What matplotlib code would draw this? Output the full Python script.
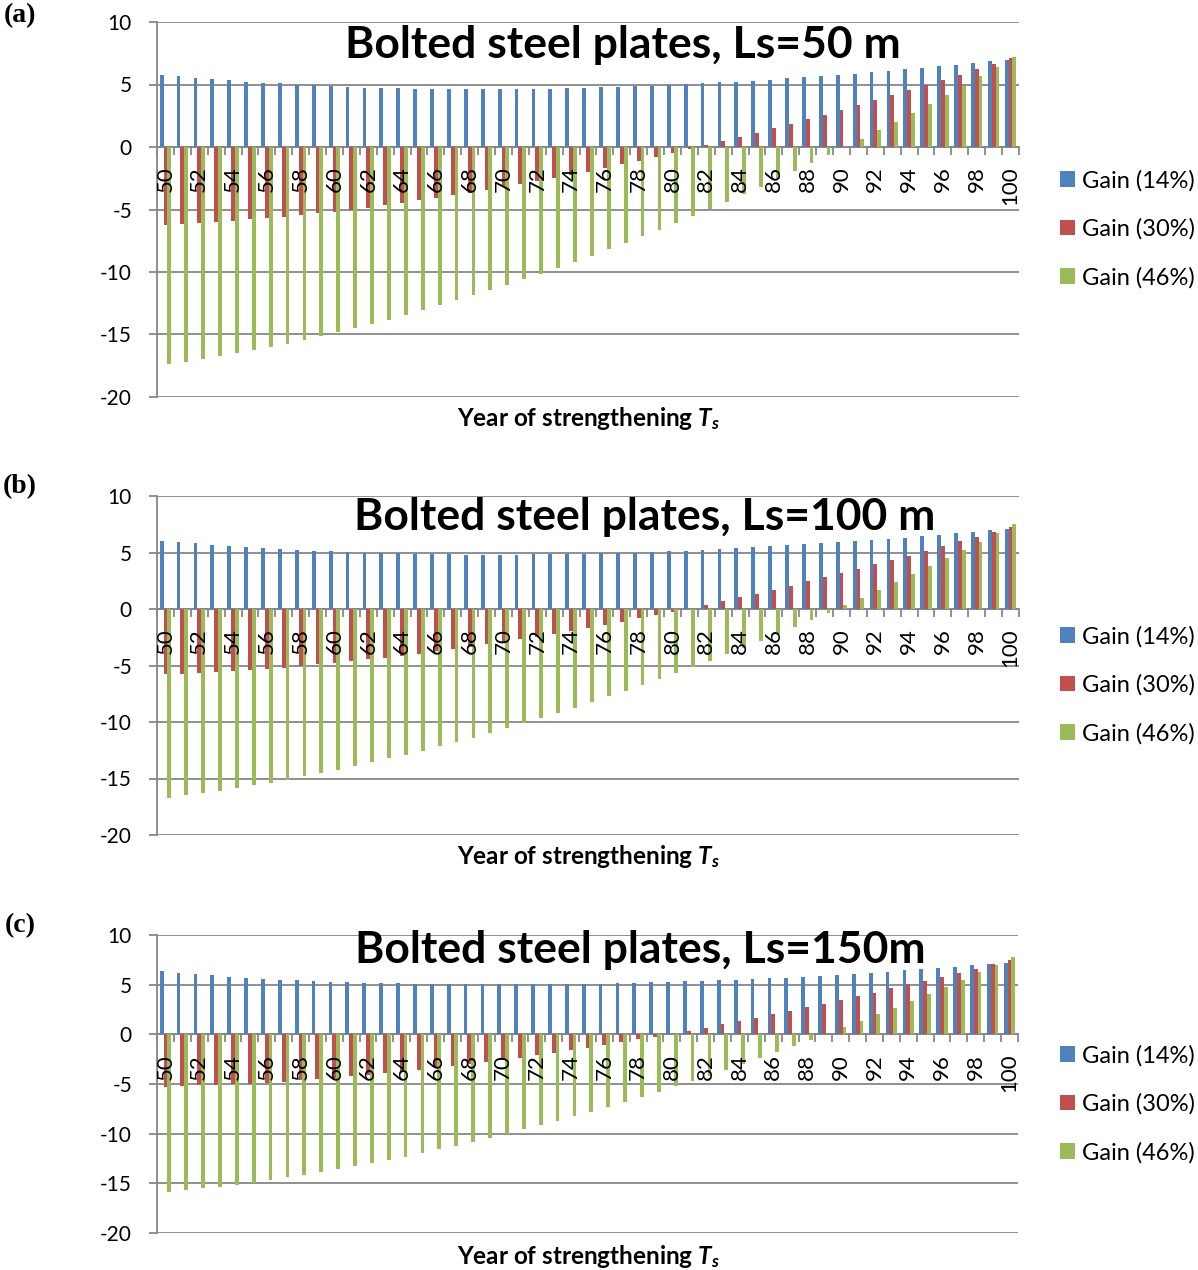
import matplotlib
matplotlib.use('Agg')
import matplotlib.pyplot as plt
from matplotlib.ticker import FixedLocator, NullFormatter

plt.rcParams['font.family'] = ['Lato', 'DejaVu Sans']
plt.rcParams['mathtext.fontset'] = 'custom'
plt.rcParams['mathtext.it'] = 'Lato:italic:bold'
plt.rcParams['mathtext.rm'] = 'Lato:bold'

years = list(range(50, 101))
year_labels = [str(y) for y in range(50, 101, 2)]
series_names = ['Gain (14%)', 'Gain (30%)', 'Gain (46%)']
colors = ['#4F81BD', '#C0504D', '#9BBB59']

# panel (a) Ls = 50 m
a_14 = [5.79, 5.65, 5.52, 5.44, 5.33, 5.23, 5.15, 5.09, 4.99, 4.93, 4.88, 4.80, 4.75, 4.72, 4.69, 4.67, 4.64,
        4.64, 4.64, 4.61, 4.64, 4.64, 4.64, 4.67, 4.69, 4.72, 4.77, 4.80, 4.85, 4.90, 4.96, 5.01, 5.09, 5.17,
        5.23, 5.31, 5.39, 5.49, 5.57, 5.65, 5.76, 5.87, 6.00, 6.08, 6.21, 6.32, 6.45, 6.59, 6.72, 6.85, 6.99]
a_30 = [-6.24, -6.19, -6.08, -6.00, -5.89, -5.79, -5.71, -5.57, -5.44, -5.31, -5.17, -5.01, -4.85, -4.67, -4.48,
        -4.27, -4.08, -3.87, -3.65, -3.44, -3.20, -2.96, -2.75, -2.48, -2.20, -1.97, -1.70, -1.39, -1.09, -0.80,
        -0.48, -0.16, 0.13, 0.45, 0.80, 1.15, 1.49, 1.84, 2.21, 2.56, 2.96, 3.33, 3.76, 4.13, 4.56, 4.96, 5.36,
        5.79, 6.21, 6.64, 7.09]
a_46 = [-17.39, -17.17, -16.96, -16.75, -16.51, -16.24, -16.00, -15.73, -15.44, -15.12, -14.80, -14.48, -14.13,
        -13.81, -13.44, -13.07, -12.67, -12.27, -11.87, -11.44, -11.01, -10.56, -10.13, -9.65, -9.17, -8.69,
        -8.19, -7.68, -7.15, -6.61, -6.05, -5.52, -4.96, -4.37, -3.79, -3.17, -2.56, -1.92, -1.31, -0.67, -0.03,
        0.67, 1.33, 2.03, 2.72, 3.44, 4.16, 4.91, 5.65, 6.40, 7.17]

# panel (b) Ls = 100 m
b_14 = [6.05, 5.93, 5.81, 5.69, 5.58, 5.49, 5.40, 5.31, 5.25, 5.16, 5.10, 5.04, 4.99, 4.96, 4.93, 4.90, 4.87,
        4.84, 4.81, 4.81, 4.81, 4.81, 4.84, 4.84, 4.87, 4.90, 4.93, 4.96, 4.99, 5.04, 5.10, 5.16, 5.25, 5.28,
        5.37, 5.46, 5.55, 5.63, 5.72, 5.81, 5.90, 5.99, 6.08, 6.19, 6.31, 6.43, 6.58, 6.70, 6.84, 6.96, 7.11]
b_30 = [-5.75, -5.72, -5.66, -5.60, -5.52, -5.43, -5.31, -5.19, -5.04, -4.90, -4.78, -4.63, -4.45, -4.31, -4.13,
        -3.95, -3.75, -3.57, -3.36, -3.13, -2.92, -2.68, -2.45, -2.18, -1.92, -1.65, -1.39, -1.12, -0.83, -0.53,
        -0.27, -0.03, 0.38, 0.71, 1.03, 1.36, 1.71, 2.06, 2.45, 2.80, 3.19, 3.57, 3.95, 4.34, 4.72, 5.13, 5.55,
        5.99, 6.40, 6.84, 7.26]
b_46 = [-16.70, -16.49, -16.28, -16.08, -15.84, -15.60, -15.37, -15.10, -14.81, -14.51, -14.22, -13.89, -13.57,
        -13.22, -12.89, -12.54, -12.15, -11.77, -11.39, -10.97, -10.56, -10.12, -9.68, -9.20, -8.73, -8.23,
        -7.73, -7.26, -6.73, -6.22, -5.66, -5.10, -4.57, -3.98, -3.42, -2.83, -2.21, -1.59, -0.94, -0.32, 0.32,
        1.00, 1.68, 2.36, 3.07, 3.78, 4.48, 5.22, 5.96, 6.73, 7.49]

# panel (c) Ls = 150 m
c_14 = [6.35, 6.19, 6.05, 5.95, 5.82, 5.72, 5.62, 5.52, 5.42, 5.35, 5.28, 5.22, 5.18, 5.15, 5.12, 5.08, 5.05,
        5.05, 5.02, 5.02, 5.02, 5.02, 5.02, 5.02, 5.02, 5.05, 5.08, 5.12, 5.15, 5.22, 5.25, 5.32, 5.38, 5.42,
        5.48, 5.59, 5.65, 5.72, 5.82, 5.92, 6.02, 6.12, 6.22, 6.32, 6.45, 6.56, 6.69, 6.82, 6.96, 7.09, 7.22]
c_30 = [-5.28, -5.18, -5.15, -5.08, -5.02, -4.95, -4.85, -4.75, -4.62, -4.48, -4.35, -4.21, -4.08, -3.91, -3.75,
        -3.58, -3.38, -3.18, -2.98, -2.78, -2.54, -2.34, -2.07, -1.84, -1.57, -1.34, -1.07, -0.80, -0.50, -0.23,
        0.03, 0.37, 0.67, 1.00, 1.34, 1.67, 2.01, 2.34, 2.71, 3.04, 3.44, 3.81, 4.21, 4.62, 5.02, 5.38, 5.79,
        6.22, 6.62, 7.09, 7.49]
c_46 = [-15.92, -15.72, -15.52, -15.32, -15.15, -14.92, -14.65, -14.38, -14.15, -13.88, -13.58, -13.28, -12.98,
        -12.64, -12.31, -11.94, -11.57, -11.20, -10.80, -10.40, -10.00, -9.57, -9.13, -8.70, -8.26, -7.79,
        -7.32, -6.82, -6.32, -5.79, -5.25, -4.72, -4.15, -3.58, -3.01, -2.41, -1.81, -1.20, -0.57, 0.03, 0.70,
        1.34, 2.01, 2.68, 3.38, 4.08, 4.78, 5.52, 6.25, 7.02, 7.79]

panel_tags = ['(a)', '(b)', '(c)']
titles = ['Bolted steel plates, Ls=50 m', 'Bolted steel plates, Ls=100 m', 'Bolted steel plates, Ls=150m']
panel_data = [(a_14, a_30, a_46), (b_14, b_30, b_46), (c_14, c_30, c_46)]

W, H = 1198, 1270
fig = plt.figure(figsize=(W / 100, H / 100), dpi=100)

def fx(px):
    return px / W

def fy(py):
    return 1 - py / H

# pixel boxes of each plot area: (left, top, right, bottom)
boxes = [(157, 22, 1019, 397), (157, 496, 1019, 835), (157, 935, 1018, 1233)]
title_pos = [(623, 45), (645, 517), (640, 950)]
tag_pos = [(20, 16), (20, 487), (20, 926)]
legend_y = [229, 685, 1104]
xlabel_y = [418, 857, 1256]

grid_col = '#878787'
bw = 0.225

for i in range(3):
    l, t, r, b = boxes[i]
    ax = fig.add_axes([fx(l), fy(b), fx(r - l), (b - t) / H])
    bars = []
    for k in range(3):
        offs = [y + (k - 1) * bw for y in years]
        bars.append(ax.bar(offs, panel_data[i][k], width=bw, color=colors[k], linewidth=0,
                           label=series_names[k], zorder=3))
    ax.set_xlim(49.5, 100.5)
    ax.set_ylim(-20, 10)
    ax.set_yticks(range(-20, 11, 5))
    ax.set_yticklabels([str(v) for v in range(-20, 11, 5)], fontsize=15)
    ax.yaxis.grid(True, color=grid_col, linewidth=1.3, zorder=0)
    ax.set_axisbelow(True)
    for s in ['top', 'right']:
        ax.spines[s].set_visible(False)
    ax.spines['left'].set_color(grid_col)
    ax.spines['left'].set_linewidth(1.3)
    ax.spines['bottom'].set_position(('data', 0))
    ax.spines['bottom'].set_color(grid_col)
    ax.spines['bottom'].set_linewidth(1.3)
    ax.spines['bottom'].set_zorder(2)
    ax.tick_params(axis='y', length=6, width=1.3, color=grid_col, pad=12)

    # tick marks between categories, labels every second year
    ax.xaxis.set_major_locator(FixedLocator([y + 0.5 for y in range(49, 101)]))
    ax.xaxis.set_major_formatter(NullFormatter())
    ax.xaxis.set_minor_locator(FixedLocator(list(range(50, 101, 2))))
    ax.set_xticklabels(year_labels, minor=True, rotation=90, fontsize=16)
    ax.tick_params(axis='x', which='major', length=6, width=1.3, color=grid_col, direction='out')
    ax.tick_params(axis='x', which='minor', length=0, pad=14)
    # year labels sit on top of the bars, as in the original
    ax.xaxis.set_zorder(4)

    fig.text(fx(title_pos[i][0]), fy(title_pos[i][1]), titles[i], fontsize=32, fontweight='bold',
             ha='center', va='center')
    fig.text(fx(588), fy(xlabel_y[i]), 'Year of strengthening $T_s$', fontsize=17.5,
             fontweight='bold', ha='center', va='center')
    fig.text(fx(tag_pos[i][0]), fy(tag_pos[i][1]), panel_tags[i], fontsize=20, fontweight='bold',
             family='Liberation Serif', ha='center', va='center')
    ax.legend(handles=bars, loc='center left', bbox_to_anchor=(fx(1060), fy(legend_y[i])),
              bbox_transform=fig.transFigure, frameon=False, fontsize=17, handlelength=0.65,
              handleheight=0.65, handletextpad=0.3, labelspacing=1.15, borderpad=0, borderaxespad=0)

fig.savefig('out.png', dpi=100)
